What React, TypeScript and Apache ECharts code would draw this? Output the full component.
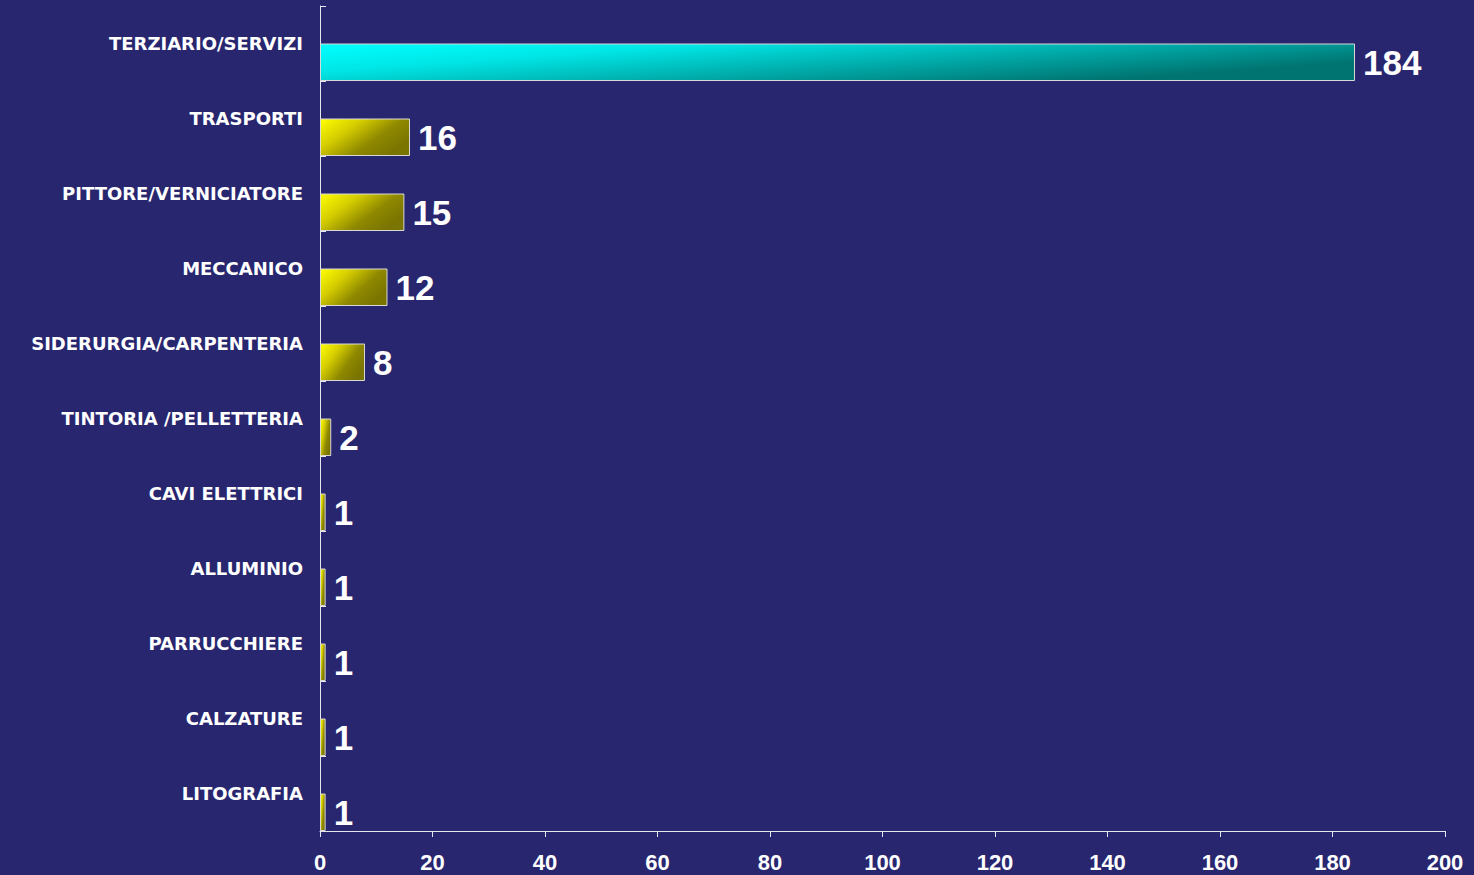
import React, { useEffect, useRef } from "react";
import * as echarts from "echarts";

const categories = [
  "TERZIARIO/SERVIZI",
  "TRASPORTI",
  "PITTORE/VERNICIATORE",
  "MECCANICO",
  "SIDERURGIA/CARPENTERIA",
  "TINTORIA /PELLETTERIA",
  "CAVI ELETTRICI",
  "ALLUMINIO",
  "PARRUCCHIERE",
  "CALZATURE",
  "LITOGRAFIA",
];
const values = [184, 16, 15, 12, 8, 2, 1, 1, 1, 1, 1];
const xTicks = { min: 0, max: 200, interval: 20 };

const BG = "#28266f";
const AXIS = "#e6e6ee";

const cyanGrad = new echarts.graphic.LinearGradient(0, 0, 1, 0.5, [
  { offset: 0, color: "#00ffff" },
  { offset: 0.3, color: "#00e6e6" },
  { offset: 0.7, color: "#00a4a2" },
  { offset: 1, color: "#007471" },
]);
const yellowGrad = new echarts.graphic.LinearGradient(0, 0, 1, 0.6, [
  { offset: 0, color: "#ffff00" },
  { offset: 0.35, color: "#d6ce00" },
  { offset: 0.7, color: "#8e8800" },
  { offset: 1, color: "#7a7400" },
]);

export default function App() {
  const ref = useRef<HTMLDivElement>(null);
  useEffect(() => {
    if (!ref.current) return;
    const chart = echarts.init(ref.current, null, { renderer: "svg" });
    chart.setOption({
      animation: false,
      backgroundColor: BG,
      grid: { left: 320, right: 29, top: 6, bottom: 44, containLabel: false, outerBoundsMode: "none" },
      xAxis: {
        type: "value",
        min: xTicks.min,
        max: xTicks.max,
        interval: xTicks.interval,
        splitLine: { show: false },
        axisLine: { show: true, lineStyle: { color: AXIS, width: 1 } },
        axisTick: { show: true, inside: false, length: 6, lineStyle: { color: AXIS } },
        axisLabel: {
          color: "#ffffff",
          fontFamily: "Liberation Sans, Arial, sans-serif",
          fontWeight: "bold",
          fontSize: 22,
          margin: 20,
        },
      },
      yAxis: {
        type: "category",
        data: categories,
        inverse: true,
        axisLine: { show: true, lineStyle: { color: AXIS, width: 1 } },
        axisTick: { show: true, inside: true, length: 6, lineStyle: { color: AXIS } },
        axisLabel: {
          color: "#ffffff",
          fontFamily: "DejaVu Sans, Verdana, sans-serif",
          fontWeight: "bold",
          fontSize: 18,
          margin: 17,
        },
      },
      series: [
        {
          type: "bar",
          data: values.map(() => 0),
          barWidth: 37.5,
          barGap: "0%",
          silent: true,
          itemStyle: { color: "rgba(0,0,0,0)" },
        },
        {
          type: "bar",
          data: values.map((v, i) => ({
            value: v,
            itemStyle: { color: i === 0 ? cyanGrad : yellowGrad },
          })),
          barWidth: 37.5,
          barGap: "0%",
          itemStyle: { borderColor: "#d8d8d8", borderWidth: 1 },
          label: {
            show: true,
            position: "right",
            distance: 8,
            color: "#ffffff",
            fontFamily: "Liberation Sans, Arial, sans-serif",
            fontWeight: "bold",
            fontSize: 35,
          },
        },
      ],
    });
    return () => chart.dispose();
  }, []);
  return (
    <div
      ref={ref}
      style={{ position: "fixed", left: 0, top: 0, width: 1474, height: 875 }}
    />
  );
}
